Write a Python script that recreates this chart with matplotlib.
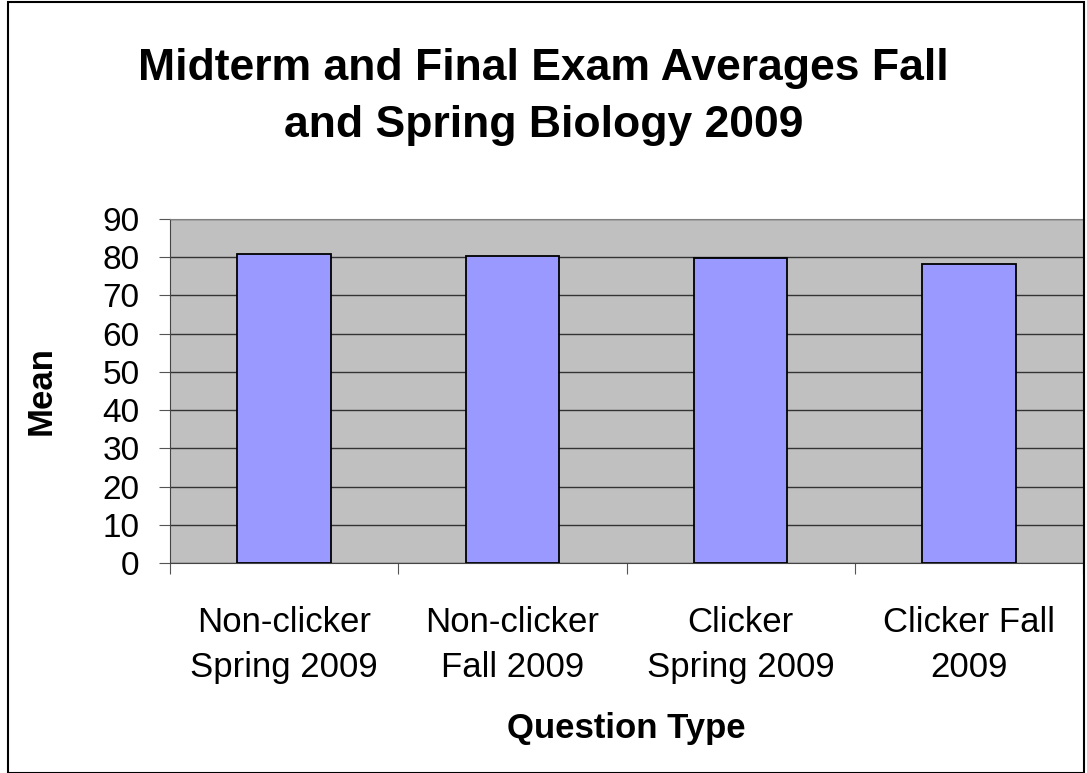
import matplotlib
matplotlib.use("Agg")
import matplotlib.pyplot as plt
from matplotlib.patches import Rectangle

plt.rcParams['font.family'] = ['Liberation Sans', 'DejaVu Sans']

categories = ["Non-clicker\nSpring 2009", "Non-clicker\nFall 2009",
              "Clicker\nSpring 2009", "Clicker Fall\n2009"]
means = [80.8, 80.3, 79.8, 78.3]
yticks = list(range(0, 91, 10))

fig = plt.figure(figsize=(10.87, 7.73), dpi=100)
fig.patches.append(Rectangle((0.0075, 0.0), 0.99, 0.998, transform=fig.transFigure,
                             fill=False, edgecolor='black', linewidth=1.5))
ax = fig.add_axes([170/1087, 1 - 563/773, 913/1087, 344/773])
ax.set_facecolor('#c0c0c0')

x = list(range(len(categories)))
ax.bar(x, means, width=0.41, color='#9999ff', edgecolor='black', linewidth=1.3, zorder=3)

ax.set_xlim(-0.5, len(categories) - 0.5)
ax.set_ylim(0, 90)
ax.set_yticks(yticks)
ax.yaxis.grid(True, color='#333333', linewidth=1.0, zorder=1)
ax.set_axisbelow(True)

ax.set_xticks([i - 0.5 for i in range(len(categories) + 1)], minor=False)
ax.set_xticklabels([])
ax.set_xticks(x, minor=True)
ax.set_xticklabels(categories, minor=True, fontsize=25, linespacing=1.45)
ax.tick_params(axis='x', which='minor', length=0, pad=31)
ax.tick_params(axis='x', which='major', length=8, direction='out', color='#555555')
ax.tick_params(axis='y', length=8, labelsize=24, color='#555555', pad=14)

for side in ['top', 'right']:
    ax.spines[side].set_color('#808080')
for side in ['left', 'bottom']:
    ax.spines[side].set_color('#444444')

ax.set_ylabel("Mean", fontsize=25, fontweight='bold', labelpad=32)
ax.set_xlabel("Question Type", fontsize=25, fontweight='bold', labelpad=20)
fig.text(0.5, 0.875, "Midterm and Final Exam Averages Fall\nand Spring Biology 2009",
         ha='center', va='center', fontsize=32, fontweight='bold', linespacing=1.5)

fig.savefig("out.png", dpi=100)
